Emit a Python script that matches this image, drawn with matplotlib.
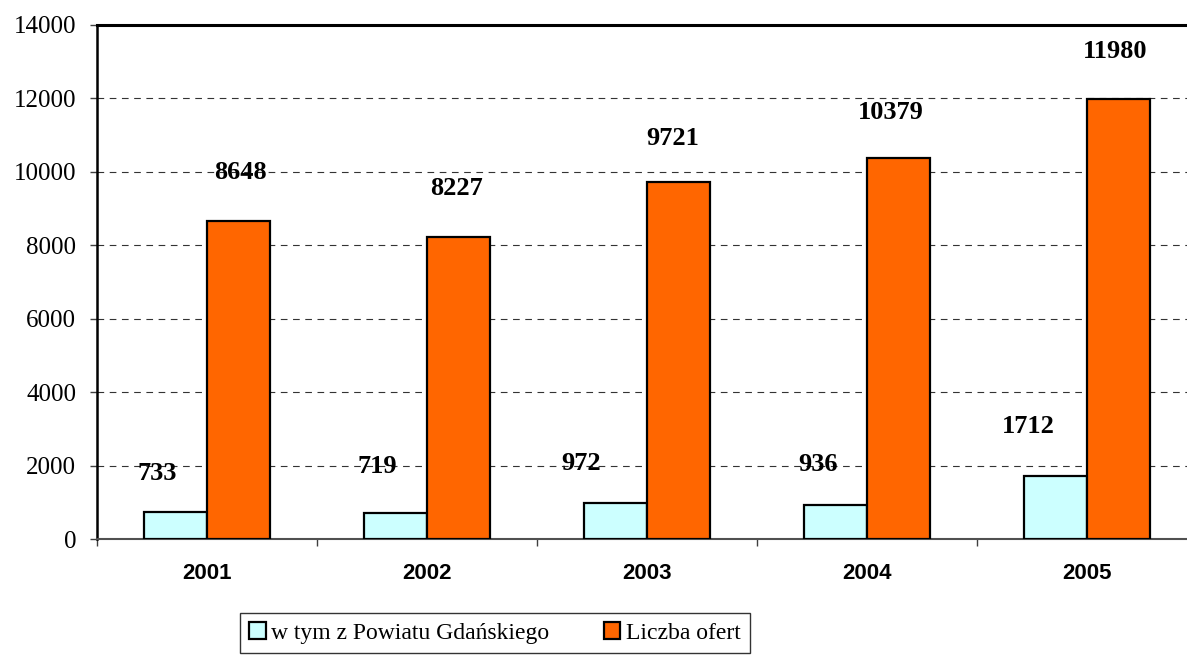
import matplotlib
matplotlib.use("Agg")
import matplotlib.pyplot as plt
import numpy as np

years = ["2001", "2002", "2003", "2004", "2005"]
powiat = [733, 719, 972, 936, 1712]
oferty = [8648, 8227, 9721, 10379, 11980]
series_names = ["w tym z Powiatu Gdańskiego", "Liczba ofert"]
yticks = [0, 2000, 4000, 6000, 8000, 10000, 12000, 14000]

# label offsets (pixels) relative to bar top centre -- layout only
powiat_off = [(-18, 39), (-18, 46), (-34, 40), (-18, 40), (-27, 50)]
oferty_off = [(2, 49), (-2, 48), (-6, 44), (-8, 45), (-3, 48)]

W, H, DPI = 1187, 655, 100
fig = plt.figure(figsize=(W / DPI, H / DPI), dpi=DPI)
ax = fig.add_axes([97 / W, (H - 539) / H, 1100 / W, 514 / H])

serif = "Liberation Serif"
sans = "Liberation Sans"

x = np.arange(len(years))
bw = 0.286
c_cyan = "#CCFFFF"
c_orange = "#FF6600"

ax.set_axisbelow(True)
b1 = ax.bar(x - bw / 2, powiat, bw, color=c_cyan, edgecolor="black", linewidth=1.6,
            label=series_names[0], zorder=3)
b2 = ax.bar(x + bw / 2, oferty, bw, color=c_orange, edgecolor="black", linewidth=1.6,
            label=series_names[1], zorder=3)

for xi, v, off in zip(x - bw / 2, powiat, powiat_off):
    ax.annotate(str(v), (xi, v), xytext=off, textcoords="offset pixels",
                ha="center", va="center", fontsize=19, fontweight="bold",
                family=serif, zorder=4)
for xi, v, off in zip(x + bw / 2, oferty, oferty_off):
    ax.annotate(str(v), (xi, v), xytext=off, textcoords="offset pixels",
                ha="center", va="center", fontsize=19, fontweight="bold",
                family=serif, zorder=4)

ax.set_xlim(-0.5, len(years) - 0.5)
ax.set_ylim(0, 14000)
ax.set_yticks(yticks)
ax.set_yticklabels([str(t) for t in yticks], family=serif, fontsize=18)
ax.tick_params(axis="y", direction="out", length=5, width=1, color="#404040", pad=10)

ax.set_xticks(x)
ax.set_xticklabels(years, family=sans, fontweight="bold", fontsize=16)
ax.tick_params(axis="x", which="major", length=0, pad=17)
ax.set_xticks(np.arange(len(years) + 1) - 0.5, minor=True)
ax.tick_params(axis="x", which="minor", direction="out", length=5, width=1, color="#404040")

ax.yaxis.grid(True, linestyle=(0, (6, 5)), color="#333333", linewidth=0.8)
ax.xaxis.grid(False)
ax.spines["left"].set_linewidth(1.8)
ax.spines["left"].set_color("black")
ax.spines["top"].set_linewidth(2.2)
ax.spines["top"].set_color("black")
ax.spines["bottom"].set_linewidth(1.5)
ax.spines["bottom"].set_color("#505050")
ax.spines["right"].set_visible(False)

leg = fig.legend(handles=[b1, b2], labels=series_names, loc="center",
                 bbox_to_anchor=(495 / W, 1 - 633 / H), ncol=2,
                 prop={"family": serif, "size": 17}, frameon=True, fancybox=False,
                 edgecolor="black", handlelength=0.7, handleheight=0.7,
                 handletextpad=0.25, columnspacing=2.3, borderpad=0.4)
leg.get_frame().set_linewidth(1.0)

fig.savefig("out.png", dpi=DPI)
